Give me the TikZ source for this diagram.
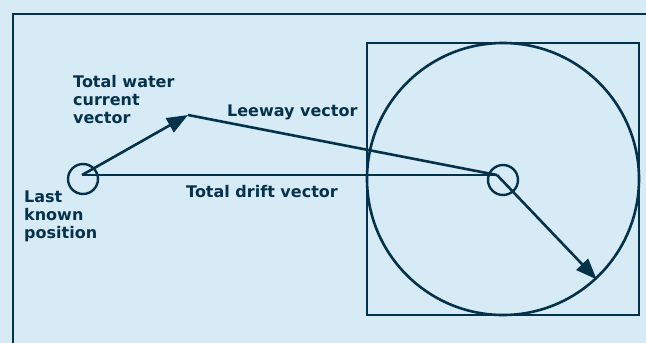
\documentclass[tikz,border=0pt]{standalone}
\usepackage{fontspec}
\setmainfont{DejaVu Sans}
\usepackage{tikz}
\usetikzlibrary{arrows.meta,positioning}
\definecolor{seaBg}{HTML}{D6EBF6}
\definecolor{seaInk}{HTML}{05324B}

\begin{document}
\begin{tikzpicture}[x=1pt,y=-1pt,>={Triangle[length=21pt,width=16pt]},
    vec/.style={draw=seaInk,line width=2.6pt},
    lbl/.style={anchor=north west,inner sep=0pt,align=left,text=seaInk,
      font=\bfseries\fontsize{16}{18}\selectfont},
    ring/.style={circle,draw=seaInk,line width=2.4pt,inner sep=0pt}]
  \useasboundingbox (0,0) rectangle (646,343);
  \fill[seaBg] (0,0) rectangle (646,343);
  \draw[seaInk,line width=2.4pt] (646,14) -| (13,343);

  % search area
  \node[draw=seaInk,line width=2.6pt,minimum size=272pt,inner sep=0pt] (box) at (503,179) {};
  \node[ring,line width=2.6pt,minimum size=272pt] (area) at (503,179) {};

  % positions
  \node[ring,minimum size=30pt] (lkp) at (83,179) {};
  \node[ring,minimum size=30pt] (datum) at (503,180) {};
  \coordinate (origin) at (82,175);
  \coordinate (wc) at (188,115);
  \coordinate (drift) at (497,175);

  % vectors
  \draw[vec,->] (origin) -- (wc);
  \draw[vec] (wc) -- (drift);
  \draw[vec] (origin) -- (drift);
  \draw[vec,->] (drift) -- (area.-47);

  \node[lbl] (wclbl) at (73,75) {Total water\\current\\vector};
  \node[lbl] (lkplbl) at (24,191) {Last\\known\\position};
  \node[lbl] (leelbl) at (227,105) {Leeway vector};
  \node[lbl] (tdlbl) at (186,185) {Total drift vector};
\end{tikzpicture}
\end{document}
